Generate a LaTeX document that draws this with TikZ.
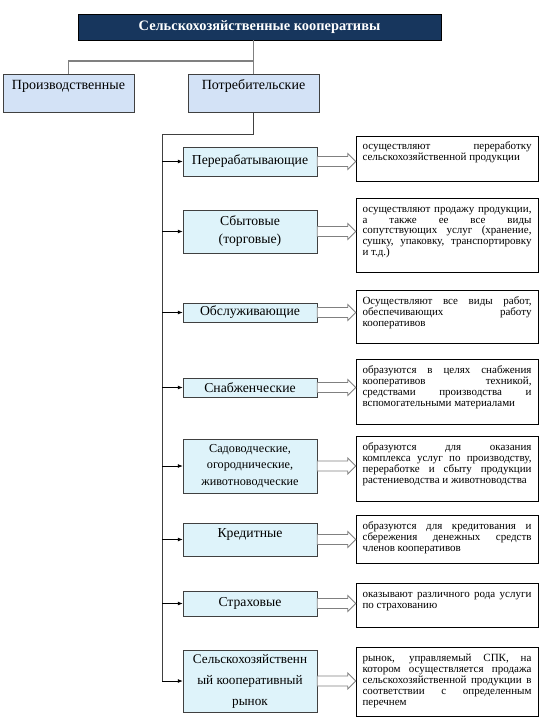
\documentclass[tikz,border=0pt]{standalone}
\usepackage{fontspec}
\setmainfont{Liberation Serif}
\usetikzlibrary{arrows.meta,calc}
\definecolor{titleblue}{HTML}{17365D}
\definecolor{typefill}{HTML}{D3E2F6}
\definecolor{kindfill}{HTML}{DEF3FA}
\definecolor{linegray}{HTML}{808080}
\definecolor{framegray}{HTML}{404040}
\tikzset{
	titlebox/.style={draw=black,fill=titleblue,text=white,inner sep=0pt,
		font=\bfseries\fontsize{14.4}{16}\selectfont,minimum width=363pt,minimum height=26pt},
	typebox/.style={draw=framegray,fill=typefill,inner sep=0pt,minimum width=131pt,
		font=\fontsize{14}{16}\selectfont,text height=16pt,text depth=22pt},
	kindbox/.style={draw=framegray,fill=kindfill,align=center,inner xsep=0pt,inner ysep=1pt,
		minimum width=134pt,font=\fontsize{13.7}{18}\selectfont},
	descbox/.style={draw=black,fill=white,inner xsep=6.5pt,inner ysep=0pt,
		font=\fontsize{11}{11}\selectfont},
	hub/.style={draw=linegray,line width=1.5pt},
	trunk/.style={draw=framegray,line width=0.8pt},
	branch/.style={draw=black,line width=0.8pt,-{Latex[length=5pt,width=4pt]}},
	hollow/.style={draw=linegray,fill=white,line width=0.8pt}
}
\begin{document}
\begin{tikzpicture}[x=1pt,y=-1pt]
	\newcommand{\desctext}[2]{%
		\parbox[c][#1pt][t]{169pt}{\tolerance=10000\rule{0pt}{14pt}#2}%
	}
	\useasboundingbox (0,0) rectangle (548,719);
	%Title and the two kinds
	\node [titlebox] (title) at (259.5,27) {Сельскохозяйственные кооперативы};
	\node [typebox] (prod) at (68.5,93) {Производственные};
	\node [typebox] (potreb) at (253.5,93) {Потребительские};
	\coordinate (fork) at (253.5,61);
	\draw [hub] (title.south -| potreb.north) -- (potreb.north);
	\draw [hub] (fork) -| (prod.north);
	%Kinds of consumer cooperatives
	\node [kindbox,minimum height=29pt] (per) at (250,161.5) {Перерабатывающие};
	\node [kindbox,minimum height=43pt] (sbyt) at (250,231.5) {Сбытовые\\(торговые)};
	\node [kindbox,minimum height=19pt] (obsl) at (250,312.5) {Обслуживающие};
	\node [kindbox,minimum height=19pt] (snab) at (250,387.5) {Снабженческие};
	\node [kindbox,minimum height=54pt,font=\fontsize{12.2}{16.7}\selectfont] (sad) at (250,466)
		{Садоводческие,\\огороднические,\\животноводческие};
	\node [kindbox,text height=13pt,text depth=18pt] (kred) at (250,539.5) {Кредитные};
	\node [kindbox,minimum height=25pt] (strah) at (250,603.5) {Страховые};
	\node [kindbox,minimum height=62pt,font=\fontsize{13.2}{21}\selectfont] (rynok) at (250,681)
		{Сельскохозяйственн\\ый кооперативный\\рынок};
	%Descriptions
	\node [descbox] (per-d) at (447,158.5) {\desctext{45}{осуществляют переработку\linebreak
		сельскохозяйственной продукции}};
	\node [descbox] (sbyt-d) at (447,235) {\desctext{74}{осуществляют продажу продукции,\linebreak
		а также ее все виды\linebreak сопутствующих услуг (хранение,\linebreak
		сушку, упаковку, транспортировку\linebreak и т.д.)}};
	\node [descbox] (obsl-d) at (447,316.5) {\desctext{53}{Осуществляют все виды работ,\linebreak
		обеспечивающих работу\linebreak кооперативов}};
	\node [descbox] (snab-d) at (447,391.5) {\desctext{65}{образуются в целях снабжения\linebreak
		кооперативов техникой,\linebreak средствами производства и\linebreak
		вспомогательными материалами}};
	\node [descbox] (sad-d) at (447,468.5) {\desctext{65}{образуются для оказания\linebreak
		комплекса услуг по производству,\linebreak переработке и сбыту продукции\linebreak
		растениеводства и животноводства}};
	\node [descbox] (kred-d) at (447,539) {\desctext{48}{образуются для кредитования и\linebreak
		сбережения денежных средств\linebreak членов кооперативов}};
	\node [descbox] (strah-d) at (447,605) {\desctext{44}{оказывают различного рода услуги\linebreak
		по страхованию}};
	\node [descbox] (rynok-d) at (447,681.5) {\desctext{69}{рынок, управляемый СПК, на\linebreak
		котором осуществляется продажа\linebreak сельскохозяйственной продукции в\linebreak
		соответствии с определенным\linebreak перечнем}};
	%Trunk with the small arrows
	\coordinate (trunkTop) at (162,134);
	\draw [trunk] (potreb.south) |- (trunkTop) -- (rynok.west -| trunkTop);
	\foreach \k in {per,sbyt,obsl,snab,sad,kred,strah,rynok} {
		\draw [branch] (\k.west -| trunkTop) -- (\k.west);
	}
	%Hollow block arrows to the descriptions
	\foreach \k in {per,sbyt,obsl,snab,sad,kred,strah,rynok} {
		\filldraw [hollow] let \p1=(\k.east), \p2=(\k-d.west) in
			(\x1,\y1+5pt) -- (\x2-8pt,\y1+5pt) -- (\x2-8pt,\y1+8pt) -- (\x2,\y1)
			-- (\x2-8pt,\y1-8pt) -- (\x2-8pt,\y1-5pt) -- (\x1,\y1-5pt) -- cycle;
	}
\end{tikzpicture}
\end{document}
